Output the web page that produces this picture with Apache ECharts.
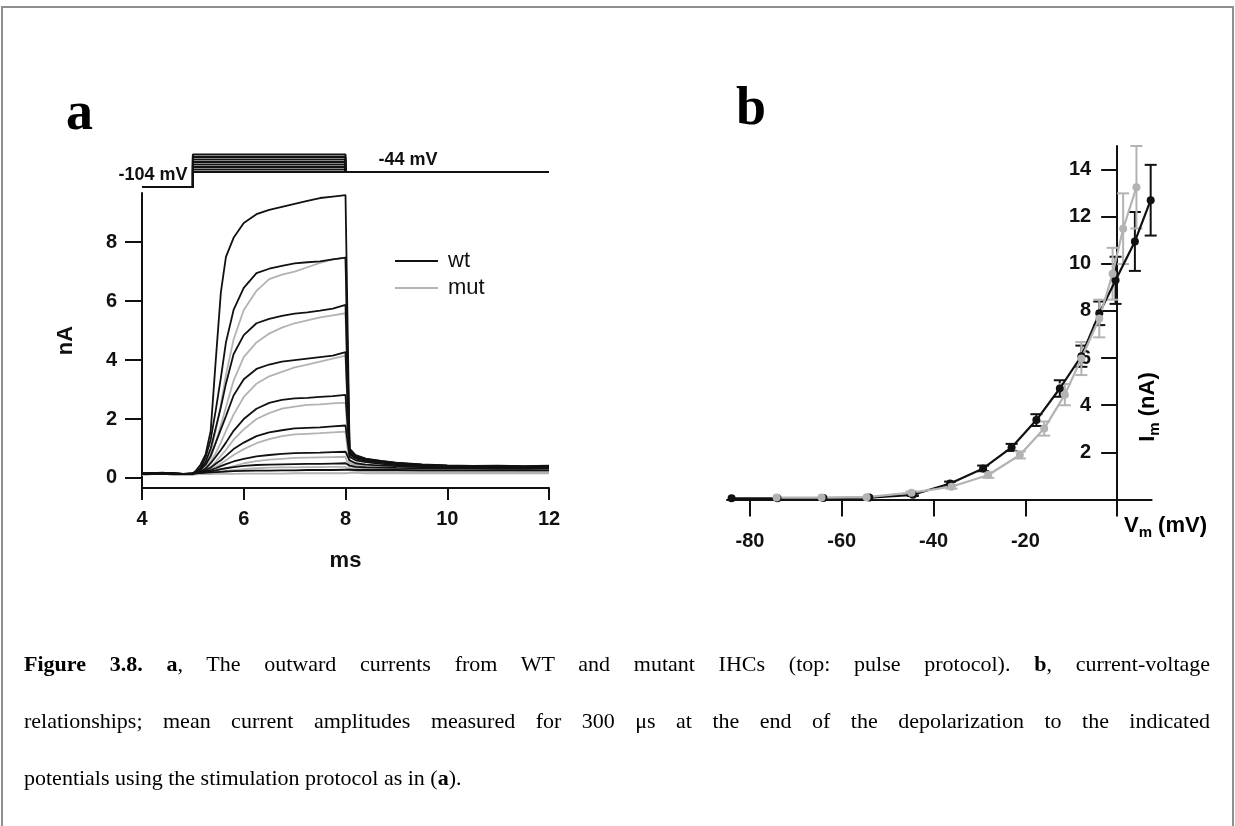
<!DOCTYPE html>
<html>
<head>
<meta charset="utf-8">
<script src="https://cdn.jsdelivr.net/npm/echarts@6/dist/echarts.min.js"></script>
<style>
html,body{margin:0;padding:0;background:#fff;}
#wrap{position:relative;width:1235px;height:826px;overflow:hidden;}
#chart{position:absolute;left:0;top:0;width:1235px;height:826px;}
#frame{position:absolute;left:1px;top:6px;width:1229px;height:840px;border:2px solid #8f8f8f;border-bottom:none;pointer-events:none;}
.cap{position:absolute;left:24px;width:1186px;font-family:"Liberation Serif","Times New Roman",serif;font-size:22px;line-height:22px;color:#000;white-space:nowrap;}
.just{text-align:justify;text-align-last:justify;white-space:normal;}
</style>
</head>
<body>
<div id="wrap">
<div id="chart"></div>
<div id="frame"></div>
<div class="cap just" style="top:653px;"><b>Figure 3.8.</b> <b>a</b>, The outward currents from WT and mutant IHCs (top: pulse protocol). <b>b</b>, current-voltage</div>
<div class="cap just" style="top:710px;">relationships; mean current amplitudes measured for 300 μs at the end of the depolarization to the indicated</div>
<div class="cap" style="top:767px;">potentials using the stimulation protocol as in (<b>a</b>).</div>
</div>
<script>
// ---------- Panel a: pulse protocol (mV) ----------
const protoTimes = [4, 5, 5, 8, 8, 12];
const protoHold = -104;
const protoTail = -44;
const protoSteps = [-44, -34, -24, -14, -4, 6, 16, 26];

// ---------- Panel a: current traces (ms, nA) ----------
const traceTimes = [4.0,4.4,4.8,5.0,5.06,5.15,5.25,5.35,5.45,5.55,5.65,5.8,6.0,6.25,6.5,6.75,7.0,7.25,7.5,7.75,8.0,8.08,8.2,8.4,8.7,9.0,9.5,10.0,10.5,11.0,11.5,12.0];

const wtTrace1 = [0.15,0.18,0.13,0.16, 0.25,0.45,0.8,1.6,4.0,6.3,7.5,8.15,8.65,8.95,9.1,9.2,9.3,9.4,9.5,9.55,9.6, 1.0,0.78,0.66,0.58,0.52,0.46,0.43,0.41,0.42,0.4,0.42];
const wtTrace2 = [0.15,0.17,0.14,0.16, 0.2,0.35,0.7,1.3,2.3,3.4,4.6,5.7,6.45,6.95,7.1,7.2,7.28,7.32,7.35,7.42,7.48, 0.95,0.75,0.64,0.57,0.5,0.45,0.42,0.4,0.41,0.39,0.4];
const wtTrace3 = [0.14,0.17,0.13,0.15, 0.2,0.3,0.55,1.0,1.7,2.4,3.2,4.2,4.85,5.25,5.4,5.5,5.58,5.62,5.68,5.75,5.87, 0.9,0.72,0.62,0.55,0.5,0.44,0.41,0.4,0.4,0.38,0.4];
const wtTrace4 = [0.15,0.16,0.14,0.15, 0.2,0.28,0.45,0.75,1.2,1.65,2.1,2.8,3.35,3.7,3.85,3.95,4.0,4.05,4.1,4.15,4.27, 0.85,0.7,0.6,0.54,0.48,0.43,0.4,0.39,0.39,0.38,0.39];
const wtTrace5 = [0.15,0.16,0.14,0.15, 0.18,0.22,0.32,0.5,0.72,0.95,1.2,1.6,2.0,2.35,2.55,2.65,2.7,2.72,2.75,2.78,2.82, 0.8,0.66,0.58,0.52,0.47,0.42,0.39,0.38,0.38,0.37,0.38];
const wtTrace6 = [0.15,0.16,0.14,0.15, 0.18,0.2,0.26,0.35,0.48,0.6,0.75,0.98,1.2,1.42,1.55,1.62,1.68,1.7,1.72,1.75,1.78, 0.72,0.6,0.54,0.48,0.44,0.4,0.37,0.36,0.36,0.35,0.36];
const wtTrace7 = [0.15,0.16,0.14,0.15, 0.17,0.18,0.22,0.27,0.33,0.4,0.47,0.56,0.65,0.73,0.78,0.82,0.84,0.85,0.86,0.88,0.89, 0.6,0.5,0.45,0.42,0.4,0.37,0.35,0.34,0.34,0.33,0.34];
const wtTrace8 = [0.15,0.16,0.14,0.15, 0.16,0.17,0.19,0.22,0.26,0.3,0.33,0.37,0.41,0.44,0.45,0.46,0.47,0.48,0.48,0.49,0.5, 0.42,0.38,0.36,0.35,0.34,0.33,0.32,0.32,0.31,0.31,0.32];
const wtTrace9 = [0.15,0.16,0.14,0.15, 0.16,0.17,0.18,0.19,0.2,0.21,0.22,0.23,0.24,0.25,0.25,0.26,0.26,0.27,0.27,0.27,0.28, 0.28,0.27,0.27,0.27,0.27,0.26,0.26,0.26,0.26,0.26,0.26];

const mutTrace2 = [0.12,0.14,0.11,0.12, 0.15,0.25,0.5,0.9,1.6,2.5,3.5,4.7,5.7,6.35,6.75,6.9,7.0,7.15,7.3,7.42,7.48, 0.6,0.48,0.4,0.34,0.3,0.27,0.25,0.24,0.25,0.24,0.25];
const mutTrace3 = [0.12,0.14,0.11,0.12, 0.15,0.2,0.4,0.7,1.2,1.8,2.4,3.3,4.1,4.6,4.9,5.1,5.25,5.35,5.45,5.52,5.59, 0.55,0.45,0.38,0.33,0.29,0.26,0.24,0.23,0.24,0.23,0.24];
const mutTrace4 = [0.12,0.14,0.11,0.12, 0.15,0.2,0.32,0.55,0.85,1.2,1.6,2.15,2.75,3.2,3.45,3.6,3.75,3.85,3.95,4.05,4.15, 0.5,0.42,0.36,0.31,0.28,0.25,0.23,0.22,0.23,0.22,0.23];
const mutTrace5 = [0.12,0.14,0.11,0.12, 0.15,0.18,0.25,0.38,0.55,0.75,0.95,1.3,1.65,2.0,2.2,2.35,2.42,2.48,2.5,2.53,2.56, 0.45,0.38,0.33,0.29,0.26,0.24,0.22,0.21,0.22,0.21,0.22];
const mutTrace6 = [0.12,0.14,0.11,0.12, 0.15,0.17,0.2,0.28,0.38,0.48,0.6,0.78,0.98,1.18,1.32,1.42,1.48,1.5,1.52,1.55,1.57, 0.4,0.34,0.3,0.27,0.25,0.23,0.21,0.2,0.21,0.2,0.21];
const mutTrace7 = [0.12,0.14,0.11,0.12, 0.14,0.15,0.17,0.2,0.24,0.28,0.33,0.4,0.5,0.57,0.62,0.65,0.68,0.69,0.7,0.71,0.72, 0.32,0.28,0.26,0.24,0.22,0.21,0.2,0.19,0.2,0.19,0.2];
const mutTrace8 = [0.12,0.14,0.11,0.12, 0.13,0.14,0.15,0.17,0.19,0.21,0.24,0.27,0.3,0.33,0.35,0.36,0.36,0.37,0.37,0.38,0.38, 0.26,0.24,0.22,0.21,0.2,0.19,0.18,0.18,0.19,0.18,0.19];
const mutTrace9 = [0.12,0.14,0.11,0.12, 0.12,0.13,0.13,0.13,0.14,0.14,0.14,0.14,0.15,0.15,0.15,0.15,0.16,0.16,0.16,0.16,0.16, 0.17,0.17,0.16,0.16,0.16,0.16,0.16,0.16,0.16,0.16,0.16];

const wtTraces = [wtTrace1, wtTrace2, wtTrace3, wtTrace4, wtTrace5, wtTrace6, wtTrace7, wtTrace8, wtTrace9];
const mutTraces = [mutTrace2, mutTrace3, mutTrace4, mutTrace5, mutTrace6, mutTrace7, mutTrace8, mutTrace9];

// ---------- Panel b: I-V (mV, nA, SEM) ----------
const wtVm  = [-84, -74, -64, -54, -44.5, -36.4, -29.2, -23.0, -17.6, -12.5, -7.8, -3.9, -0.35, 3.86, 7.3];
const wtIm  = [0.05, 0.05, 0.06, 0.08, 0.2, 0.68, 1.32, 2.21, 3.37, 4.71, 6.08, 7.9, 9.3, 10.95, 12.7];
const wtSem = [0, 0, 0, 0, 0.05, 0.08, 0.12, 0.15, 0.25, 0.35, 0.45, 0.5, 1.0, 1.25, 1.5];
const mutVm  = [-74.2, -64.4, -54.6, -44.8, -36.1, -28.1, -21.2, -15.9, -11.4, -7.8, -3.9, -1.0, 1.3, 4.2];
const mutIm  = [0.08, 0.08, 0.1, 0.29, 0.54, 1.04, 1.89, 3.01, 4.45, 5.98, 7.68, 9.58, 11.49, 13.25];
const mutSem = [0, 0, 0, 0.05, 0.08, 0.12, 0.15, 0.3, 0.45, 0.7, 0.8, 1.1, 1.5, 1.75];

const panelATicks = [0, 2, 4, 6, 8];
const panelBYTicks = [2, 4, 6, 8, 10, 12, 14];
const panelBXTicks = [-80, -60, -40, -20, 0];
const panelBXLabels = [-80, -60, -40, -20];

// ---------- build ----------
const FONT = '"Liberation Sans", Arial, Helvetica, sans-serif';
const BLACK = '#111111';
const GREY = '#b3b3b3';
const lblStyle = {fontSize: 20, fontWeight: 'bold', fontFamily: FONT, color: BLACK};
const nameStyle = {fontSize: 22, fontWeight: 'bold', fontFamily: FONT, color: BLACK};

function zip(xs, ys) { return xs.map((x, i) => [x, ys[i]]); }

const series = [];
protoSteps.forEach((s) => {
  const vals = [protoHold, protoHold, s, s, protoTail, protoTail];
  series.push({
    type: 'line', xAxisIndex: 0, yAxisIndex: 0, data: zip(protoTimes, vals),
    showSymbol: false, silent: true, animation: false,
    lineStyle: {color: BLACK, width: 2}
  });
});
mutTraces.forEach((t) => {
  series.push({
    name: 'mut', type: 'line', xAxisIndex: 1, yAxisIndex: 1, data: zip(traceTimes, t),
    showSymbol: false, silent: true, animation: false, color: GREY,
    lineStyle: {color: GREY, width: 1.8}
  });
});
wtTraces.forEach((t) => {
  series.push({
    name: 'wt', type: 'line', xAxisIndex: 1, yAxisIndex: 1, data: zip(traceTimes, t),
    showSymbol: false, silent: true, animation: false, color: BLACK,
    lineStyle: {color: BLACK, width: 1.8}
  });
});

function errData(xs, ys, es) {
  const out = [];
  xs.forEach((x, i) => { if (es[i] > 0) out.push([x, ys[i] - es[i], ys[i] + es[i]]); });
  return out;
}
function errSeries(data, color) {
  return {
    type: 'custom', xAxisIndex: 2, yAxisIndex: 2, data: data, silent: true, animation: false,
    encode: {x: 0, y: [1, 2]}, clip: false,
    renderItem: function (params, api) {
      const x = api.value(0);
      const top = api.coord([x, api.value(2)]);
      const bot = api.coord([x, api.value(1)]);
      const w = 6;
      const st = {stroke: color, lineWidth: 2};
      return {type: 'group', children: [
        {type: 'line', shape: {x1: top[0], y1: top[1], x2: bot[0], y2: bot[1]}, style: st},
        {type: 'line', shape: {x1: top[0] - w, y1: top[1], x2: top[0] + w, y2: top[1]}, style: st},
        {type: 'line', shape: {x1: bot[0] - w, y1: bot[1], x2: bot[0] + w, y2: bot[1]}, style: st}
      ]};
    }
  };
}
series.push(errSeries(errData(wtVm, wtIm, wtSem), BLACK));
series.push({
  name: 'wt IV', type: 'line', xAxisIndex: 2, yAxisIndex: 2, data: zip(wtVm, wtIm),
  symbol: 'circle', symbolSize: 8, clip: false, silent: true, animation: false,
  itemStyle: {color: BLACK}, lineStyle: {color: BLACK, width: 2.2}
});
series.push(errSeries(errData(mutVm, mutIm, mutSem), GREY));
series.push({
  name: 'mut IV', type: 'line', xAxisIndex: 2, yAxisIndex: 2, data: zip(mutVm, mutIm),
  symbol: 'circle', symbolSize: 8, clip: false, silent: true, animation: false,
  itemStyle: {color: GREY}, lineStyle: {color: GREY, width: 2.2}
});

const axLine = {show: true, onZero: false, lineStyle: {color: BLACK, width: 2}};
const tickStyle = {color: BLACK, width: 2};

// Panel b geometry: x range -85..7.5 over the grid width; y axis sits at V = 0
const ivLeft = 727, ivWidth = 424.6, ivMin = -85, ivMax = 7.5;
const ivYOffset = -(0 - ivMin) * ivWidth / (ivMax - ivMin);

const option = {
  backgroundColor: '#ffffff',
  animation: false,
  textStyle: {fontFamily: FONT},
  legend: {
    data: ['wt', 'mut'], orient: 'vertical', left: 395, top: 250, padding: 0,
    icon: 'rect', itemWidth: 43, itemHeight: 2, itemGap: 5, selectedMode: false,
    textStyle: {fontSize: 22, fontFamily: FONT, color: BLACK, padding: [0, 0, 0, 5], lineHeight: 22}
  },
  grid: [
    {left: 142, top: 150, width: 407, height: 40},
    {left: 142, top: 193, width: 407, height: 295},
    {left: ivLeft, top: 146, width: ivWidth, height: 353.5}
  ],
  xAxis: [
    {gridIndex: 0, type: 'value', min: 4, max: 12, show: false},
    {gridIndex: 1, type: 'value', min: 4, max: 12, interval: 2,
     axisLine: axLine,
     axisTick: {show: true, length: 12, lineStyle: tickStyle},
     axisLabel: Object.assign({margin: 21}, lblStyle),
     splitLine: {show: false},
     name: 'ms', nameLocation: 'middle', nameGap: 62, nameTextStyle: nameStyle},
    {gridIndex: 2, type: 'value', min: ivMin, max: ivMax,
     axisLine: axLine,
     axisTick: {show: true, length: 17, lineStyle: tickStyle, customValues: panelBXTicks},
     axisLabel: Object.assign({margin: 32, customValues: panelBXLabels}, lblStyle),
     splitLine: {show: false}}
  ],
  yAxis: [
    {gridIndex: 0, type: 'value', min: -116, max: 44, show: false},
    {gridIndex: 1, type: 'value', min: -0.34, max: 9.67,
     axisLine: axLine,
     axisTick: {show: true, length: 17, lineStyle: tickStyle, customValues: panelATicks},
     axisLabel: Object.assign({margin: 25, customValues: panelATicks}, lblStyle),
     splitLine: {show: false},
     name: 'nA', nameLocation: 'middle', nameGap: 65, nameMoveOverlap: false, nameRotate: 90, nameTextStyle: nameStyle},
    {gridIndex: 2, type: 'value', min: 0, max: 15, position: 'left', offset: ivYOffset,
     axisLine: axLine,
     axisTick: {show: true, length: 16, lineStyle: tickStyle, customValues: panelBYTicks},
     axisLabel: Object.assign({margin: 26, customValues: panelBYTicks}, lblStyle),
     splitLine: {show: false}}
  ],
  graphic: [
    {type: 'text', left: 66, top: 88, style: {text: 'a', font: 'bold 54px "Liberation Serif", "Times New Roman", serif', fill: '#000'}},
    {type: 'text', left: 736, top: 83, style: {text: 'b', font: 'bold 54px "Liberation Serif", "Times New Roman", serif', fill: '#000'}},
    {type: 'text', x: 153, y: 175, style: {text: '-104 mV', fontSize: 18, fontWeight: 'bold', fontFamily: FONT, fill: BLACK, align: 'center', verticalAlign: 'middle'}},
    {type: 'text', x: 408, y: 160, style: {text: '-44 mV', fontSize: 18, fontWeight: 'bold', fontFamily: FONT, fill: BLACK, align: 'center', verticalAlign: 'middle'}},
    {type: 'text', x: 1124, y: 526, style: {
      text: '{b|V}{s|m}{b| (mV)}', align: 'left', verticalAlign: 'middle',
      rich: {b: {fontSize: 22, fontWeight: 'bold', fontFamily: FONT, color: BLACK, lineHeight: 28, verticalAlign: 'middle'},
             s: {fontSize: 15, fontWeight: 'bold', fontFamily: FONT, color: BLACK, lineHeight: 14, verticalAlign: 'bottom'}}}},
    {type: 'text', x: 1148, y: 407, rotation: Math.PI / 2, style: {
      text: '{b|I}{s|m}{b| (nA)}', align: 'center', verticalAlign: 'middle',
      rich: {b: {fontSize: 22, fontWeight: 'bold', fontFamily: FONT, color: BLACK, lineHeight: 28, verticalAlign: 'middle'},
             s: {fontSize: 15, fontWeight: 'bold', fontFamily: FONT, color: BLACK, lineHeight: 14, verticalAlign: 'bottom'}}}}
  ],
  series: series
};

const chart = echarts.init(document.getElementById('chart'), null, {renderer: 'canvas'});
chart.setOption(option);
</script>
</body>
</html>
